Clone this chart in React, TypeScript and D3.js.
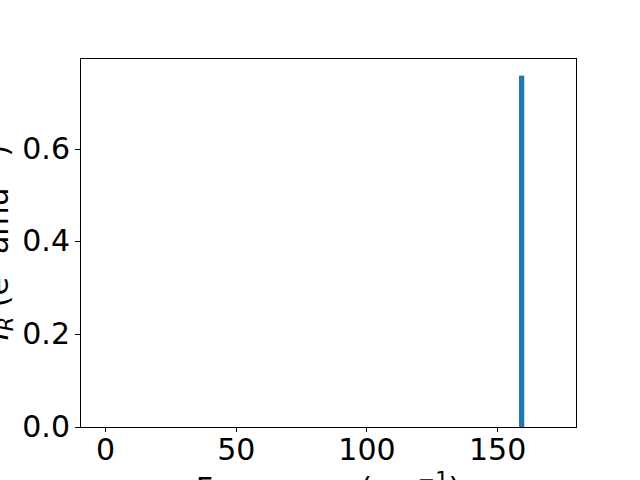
import React, { useRef, useEffect } from 'react';
import * as d3 from 'd3';

// vibrational mode frequencies (cm^-1) and IR intensities
const frequencies = [159.4];
const intensities = [0.757];
const xTicks = [0, 50, 100, 150];
const yTicks = [0.0, 0.2, 0.4, 0.6];

export default function App() {
  const ref = useRef<SVGSVGElement>(null);

  useEffect(() => {
    const svg = d3.select(ref.current);
    svg.selectAll('*').remove();

    const margin = { top: 58, right: 64, bottom: 53, left: 80 },
          width = 640 - margin.left - margin.right,
          height = 480 - margin.top - margin.bottom;
    const font = 'DejaVu Sans, sans-serif';
    const fs = 30;

    const g = svg.append('g').attr('transform', `translate(${margin.left},${margin.top})`);

    const x = d3.scaleLinear().domain([-9.6, 180.2]).range([0, width]);
    const y = d3.scaleLinear().domain([0, 0.795]).range([height, 0]);
    const barW = 2;

    const data = frequencies.map((f, i) => ({ f, v: intensities[i] }));

    g.selectAll('.bar')
      .data(data)
      .enter()
      .append('rect')
      .attr('x', d => x(d.f - barW / 2))
      .attr('y', d => y(d.v))
      .attr('width', d => x(d.f + barW / 2) - x(d.f - barW / 2))
      .attr('height', d => height - y(d.v))
      .attr('fill', '#1f77b4');

    const xAxis = g.append('g')
      .attr('transform', `translate(0,${height})`)
      .call(d3.axisBottom(x).tickValues(xTicks).tickFormat(d3.format('d')).tickSize(5).tickPadding(5).tickSizeOuter(0));
    const yAxis = g.append('g')
      .call(d3.axisLeft(y).tickValues(yTicks).tickFormat(d3.format('.1f')).tickSize(5).tickPadding(5).tickSizeOuter(0));

    [xAxis, yAxis].forEach(ax => {
      ax.select('.domain').remove();
      ax.selectAll('line')
        .attr('stroke', '#000')
        .attr('stroke-width', 1)
        .attr('shape-rendering', 'crispEdges');
      ax.selectAll('text')
        .attr('fill', '#000')
        .style('font-family', font)
        .style('font-size', `${fs}px`);
    });
    xAxis.selectAll('text').attr('dy', '0.76em');

    // frame
    g.append('rect')
      .attr('width', width)
      .attr('height', height)
      .attr('fill', 'none')
      .attr('stroke', '#000')
      .attr('stroke-width', 1)
      .attr('shape-rendering', 'crispEdges');

    // x label
    const xl = svg.append('text')
      .attr('x', margin.left + width / 2)
      .attr('y', 499)
      .attr('text-anchor', 'middle')
      .style('font-family', font)
      .style('font-size', `${fs}px`);
    xl.append('tspan').text('Frequency (cm');
    xl.append('tspan').attr('dy', -12).style('font-size', `${fs * 0.7}px`).text('−1');
    xl.append('tspan').attr('dy', 12).text(')');

    // y label
    const yl = svg.append('text')
      .attr('transform', `translate(8,${margin.top + height / 2}) rotate(-90)`)
      .attr('text-anchor', 'middle')
      .style('font-family', font)
      .style('font-size', `${fs}px`);
    yl.append('tspan').style('font-style', 'italic').text('I');
    yl.append('tspan').attr('dy', 5).style('font-style', 'italic').style('font-size', `${fs * 0.7}px`).text('R');
    yl.append('tspan').attr('dy', -5).text(' (e');
    yl.append('tspan').attr('dy', -12).style('font-size', `${fs * 0.7}px`).text('2');
    yl.append('tspan').attr('dy', 12).text(' amu');
    yl.append('tspan').attr('dy', -12).style('font-size', `${fs * 0.7}px`).text('−1');
    yl.append('tspan').attr('dy', 12).text(')');
  }, []);

  return (
    <svg
      ref={ref}
      width={640}
      height={480}
      style={{ position: 'absolute', left: 0, top: 0, background: '#fff', overflow: 'hidden' }}
    />
  );
}
